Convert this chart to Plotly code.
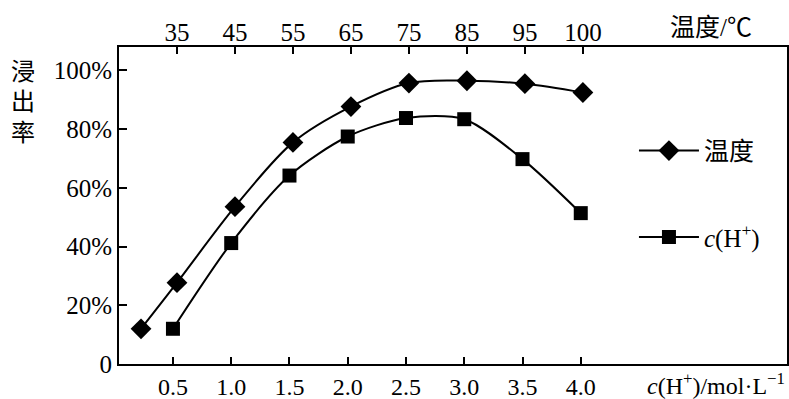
import plotly.graph_objects as go

# Leaching rate vs. acid concentration and vs. temperature
conc_pos = [0.5, 1.0, 1.5, 2.0, 2.5, 3.0, 3.5, 4.0]
conc_labels = ["0.5", "1.0", "1.5", "2.0", "2.5", "3.0", "3.5", "4.0"]
conc_rate = [12, 41.2, 64.2, 77.5, 83.8, 83.4, 69.8, 51.4]

temp_labels = ["35", "45", "55", "65", "75", "85", "95", "100"]
temp_index = [-0.62, 0, 1, 2, 3, 4, 5, 6, 7]          # position along the top axis
temp_rate = [12, 27.7, 53.6, 75.5, 87.7, 95.7, 96.5, 95.5, 92.5]

y_ticks = [0, 20, 40, 60, 80, 100]
y_labels = ["0", "20%", "40%", "60%", "80%", "100%"]

FONT = "Liberation Serif, Noto Sans CJK SC, serif"
FS = 25

fig = go.Figure()

fig.add_trace(go.Scatter(
    x=temp_index, y=temp_rate, xaxis="x2", yaxis="y",
    mode="lines+markers", name="温度", legendgroup="t",
    line=dict(color="black", width=2, shape="spline", smoothing=0.9),
    marker=dict(symbol="diamond", size=16, color="black"),
))
fig.add_trace(go.Scatter(
    x=conc_pos, y=conc_rate, xaxis="x", yaxis="y",
    mode="lines+markers", name="<i>c</i>(H<sup>+</sup>)", legendgroup="c",
    line=dict(color="black", width=2, shape="spline", smoothing=0.8),
    marker=dict(symbol="square", size=14, color="black"),
))

fig.update_layout(
    width=789, height=399,
    margin=dict(l=119, r=2, t=47, b=35, autoexpand=False),
    paper_bgcolor="white", plot_bgcolor="white",
    font=dict(family=FONT, size=FS, color="black"),
    showlegend=True,
    legend=dict(
        x=0.967, y=0.745, xanchor="right", yanchor="top",
        bgcolor="rgba(0,0,0,0)", font=dict(family=FONT, size=FS),
        tracegroupgap=51, itemwidth=60,
    ),
    xaxis=dict(
        range=[0.037, 5.77], tickvals=conc_pos, ticktext=conc_labels,
        ticks="inside", ticklen=7, tickwidth=2, tickcolor="black",
        showline=True, linecolor="black", linewidth=2, mirror=True,
        showgrid=False, zeroline=False, automargin=False,
        tickfont=dict(family=FONT, size=24),
    ),
    xaxis2=dict(
        overlaying="x", side="top",
        range=[-1.0, 10.52], tickvals=list(range(len(temp_labels))), ticktext=temp_labels,
        ticks="inside", ticklen=7, tickwidth=2, tickcolor="black",
        showline=False, showgrid=False, zeroline=False, automargin=False,
        tickfont=dict(family=FONT, size=FS),
    ),
    yaxis=dict(
        range=[0, 108], tickvals=y_ticks, ticktext=y_labels,
        ticks="inside", ticklen=8, tickwidth=2, tickcolor="black",
        showline=True, linecolor="black", linewidth=2, mirror=True,
        showgrid=False, zeroline=False, automargin=False,
        tickfont=dict(family=FONT, size=FS),
    ),
)

# vertical y-axis title, one character per line
for i, ch in enumerate("浸出率"):
    fig.add_annotation(
        text=ch, xref="paper", yref="paper",
        x=-0.143, y=0.92 - i * 0.095, xanchor="center", yanchor="middle",
        showarrow=False, font=dict(family=FONT, size=24),
    )
fig.add_annotation(
    text="温度/℃", xref="paper", yref="paper",
    x=0.95, y=1.0, xanchor="right", yanchor="bottom", yshift=4, showarrow=False,
    font=dict(family=FONT, size=FS),
)
fig.add_annotation(
    text="<i>c</i>(H<sup>+</sup>)/mol·L<sup>−1</sup>", xref="paper", yref="paper",
    x=1.0, y=0.0, xanchor="right", yanchor="top", yshift=-3, showarrow=False,
    font=dict(family=FONT, size=24),
)

fig.write_html("out.html")
